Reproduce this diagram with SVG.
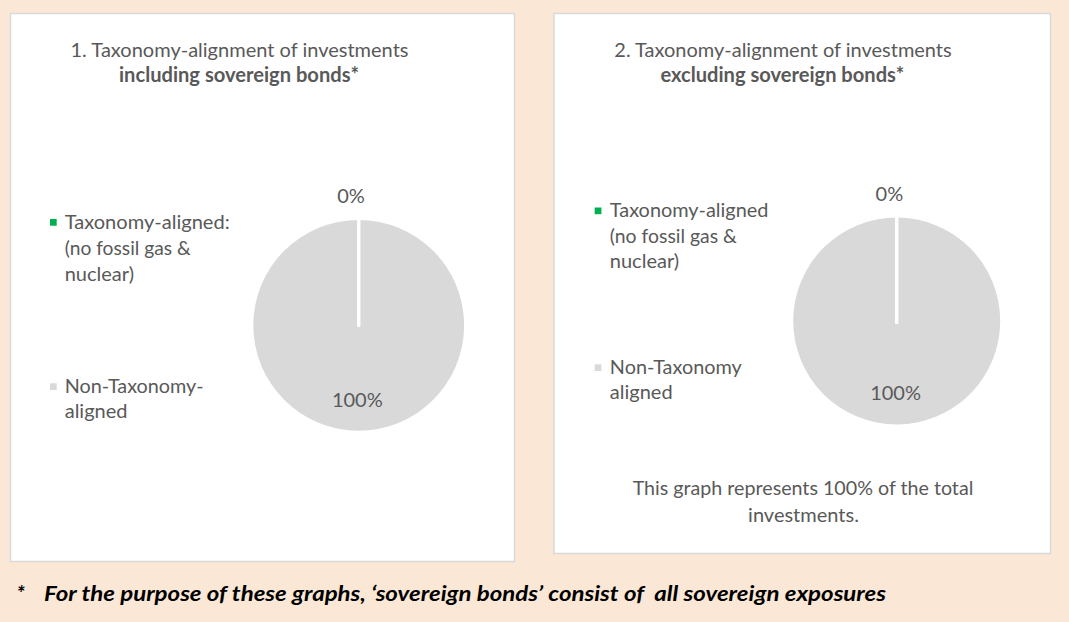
<svg xmlns="http://www.w3.org/2000/svg" width="1069" height="622" viewBox="0 0 1069 622">
<style>
.bg{fill:#FAE7D6}
.panel{fill:#FFFFFF;stroke:#D9D9D9;stroke-width:1.5}
.t{font-family:Lato,"Liberation Sans",sans-serif;font-size:20px;fill:#595959}
.b{font-weight:bold}
.mid{text-anchor:middle}
.pie{fill:#D9D9D9}
.gap{stroke:#FFFFFF;stroke-width:3.5;stroke-linecap:round}
.sq-g{fill:#00B050}
.sq-n{fill:#D9D9D9}
.foot{font-family:Lato,"Liberation Sans",sans-serif;font-size:21px;font-weight:bold;font-style:italic;fill:#000000;white-space:pre}
</style>
<rect class="bg" x="0" y="0" width="1069" height="622"/>
<g id="connectors"/>
<g id="chart1">
  <rect class="panel" x="10.5" y="13.5" width="504" height="548"/>
  <text class="t mid" x="239.5" y="56.7" textLength="338" lengthAdjust="spacingAndGlyphs">1. Taxonomy-alignment of investments</text>
  <text class="t b mid" x="239" y="81.7" textLength="240" lengthAdjust="spacingAndGlyphs">including sovereign bonds*</text>
  <g id="legend1">
    <rect class="sq-g" x="50" y="219" width="6.7" height="6.7"/>
    <text class="t" x="64.7" y="229" textLength="165" lengthAdjust="spacingAndGlyphs">Taxonomy-aligned:</text>
    <text class="t" x="64.7" y="255" textLength="126" lengthAdjust="spacingAndGlyphs">(no fossil gas &amp;</text>
    <text class="t" x="64.7" y="280.7">nuclear)</text>
    <rect class="sq-n" x="50" y="383.3" width="6.7" height="6.7"/>
    <text class="t" x="64.7" y="393.3" textLength="139" lengthAdjust="spacingAndGlyphs">Non-Taxonomy-</text>
    <text class="t" x="64.7" y="418.3">aligned</text>
  </g>
  <g id="pie1">
    <circle class="pie" cx="358.7" cy="325.3" r="105.4"/>
    <line class="gap" x1="358.7" y1="219" x2="358.7" y2="325.5"/>
    <text class="t mid" x="351" y="203.3">0%</text>
    <text class="t mid" x="357.3" y="406.7">100%</text>
  </g>
</g>
<g id="chart2">
  <rect class="panel" x="554" y="13.5" width="496.5" height="540"/>
  <text class="t mid" x="783" y="56.7" textLength="337.4" lengthAdjust="spacingAndGlyphs">2. Taxonomy-alignment of investments</text>
  <text class="t b mid" x="782.4" y="81.7" textLength="244" lengthAdjust="spacingAndGlyphs">excluding sovereign bonds*</text>
  <g id="legend2">
    <rect class="sq-g" x="594.7" y="207.5" width="6.7" height="6.7"/>
    <text class="t" x="609.8" y="216.7" textLength="158.6" lengthAdjust="spacingAndGlyphs">Taxonomy-aligned</text>
    <text class="t" x="609.8" y="242.7" textLength="127" lengthAdjust="spacingAndGlyphs">(no fossil gas &amp;</text>
    <text class="t" x="609.8" y="268.3">nuclear)</text>
    <rect class="sq-n" x="594.7" y="364.3" width="6.7" height="6.7"/>
    <text class="t" x="609.8" y="374" textLength="132" lengthAdjust="spacingAndGlyphs">Non-Taxonomy</text>
    <text class="t" x="609.8" y="399.3">aligned</text>
  </g>
  <g id="pie2">
    <circle class="pie" cx="896.7" cy="321" r="103.5"/>
    <line class="gap" x1="896.7" y1="217" x2="896.7" y2="322.5"/>
    <text class="t mid" x="889.4" y="201">0%</text>
    <text class="t mid" x="895.6" y="400">100%</text>
  </g>
  <text class="t mid" x="803" y="495" textLength="340.7" lengthAdjust="spacingAndGlyphs">This graph represents 100% of the total</text>
  <text class="t mid" x="803.5" y="521.7">investments.</text>
</g>
<g id="footnote">
  <text class="foot" x="16.5" y="600.5">*</text>
  <text class="foot" x="44" y="600.5" textLength="842" lengthAdjust="spacingAndGlyphs">For the purpose of these graphs, ‘sovereign bonds’ consist of  all sovereign exposures</text>
</g>
</svg>
